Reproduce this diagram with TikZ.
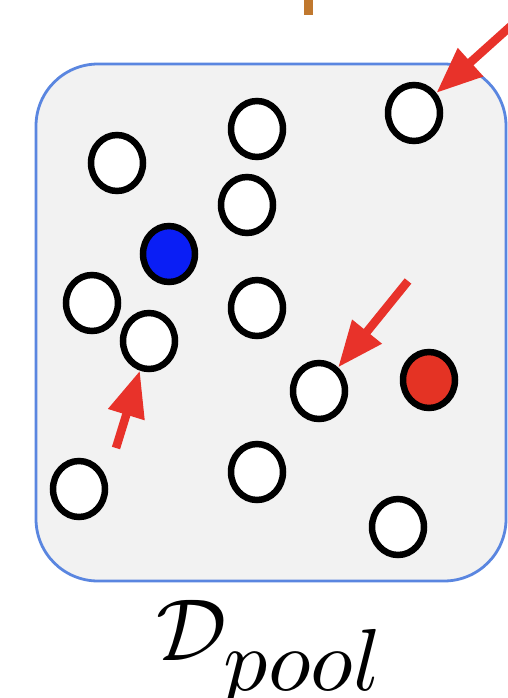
\documentclass[tikz,border=0pt]{standalone}
\usetikzlibrary{shapes.geometric,arrows.meta}
\definecolor{boxblue}{HTML}{5A86E0}
\definecolor{boxfill}{HTML}{F2F2F2}
\definecolor{arrred}{HTML}{E8322A}
\definecolor{dotblue}{HTML}{0A1EF5}
\definecolor{dotred}{HTML}{E43324}
\definecolor{brown}{HTML}{C0782E}
\begin{document}
\begin{tikzpicture}[x=1pt,y=-1pt,
  pt/.style={ellipse,draw=black,line width=6.5pt,fill=white,minimum width=52pt,minimum height=56pt,inner sep=0pt},
  sel/.style={draw=arrred,line width=8.5pt,-{Triangle[length=46pt,width=36pt]}}]
\clip (0,0) rectangle (508,698);
\useasboundingbox (0,0) rectangle (508,698);
\fill[white] (0,0) rectangle (508,698);
\fill[brown] (304,0) rectangle (313,15);
\draw[boxblue,line width=2.8pt,fill=boxfill,rounded corners=62pt] (36,64) rectangle (506,581);
\node[pt] (c1) at (414,113) {};
\node[pt] (c2) at (257,129) {};
\node[pt] (c3) at (117,163) {};
\node[pt] (c4) at (247,205) {};
\node[pt,fill=dotblue] (c5) at (169,254) {};
\node[pt] (c6) at (92,303) {};
\node[pt] (c7) at (257,308) {};
\node[pt] (c8) at (149,341) {};
\node[pt] (c9) at (319,391) {};
\node[pt,fill=dotred] (c10) at (429,380) {};
\node[pt] (c11) at (79,489) {};
\node[pt] (c12) at (257,472) {};
\node[pt] (c13) at (398,527) {};
\coordinate (t1) at (522,16);
\coordinate (t2) at (116,448);
\coordinate (t3) at (408,281);
\draw[sel] (t1) -- (c1);
\draw[sel] (t2) -- (c8);
\draw[sel] (t3) -- (c9);
\node[scale=8.8,anchor=base,inner sep=0pt] (lbl) at (271,660) {$\mathcal{D}_{\textstyle pool}$};
\end{tikzpicture}
\end{document}
